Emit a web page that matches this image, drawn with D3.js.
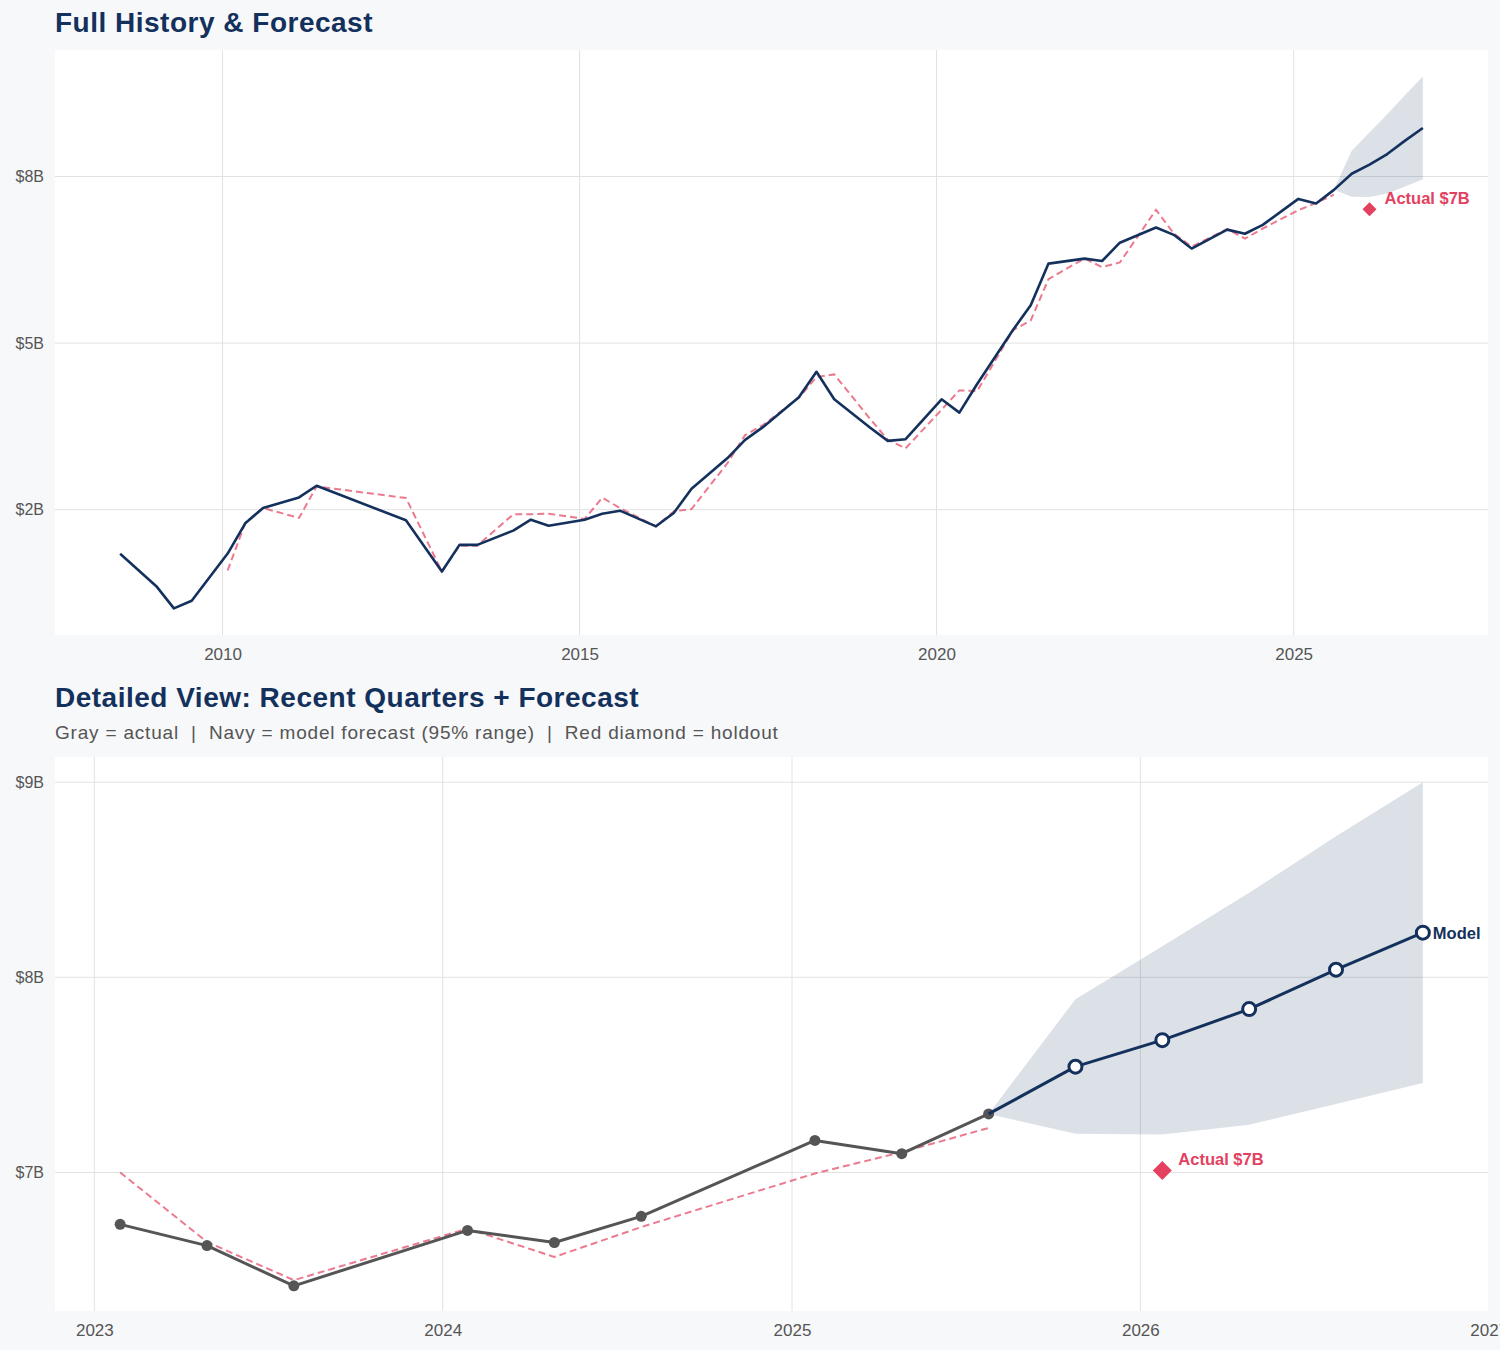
<!DOCTYPE html>
<html><head><meta charset="utf-8">
<script src="https://cdn.jsdelivr.net/npm/d3@7"></script>
<style>
body{margin:0;background:#f7f8fa;}
text{font-family:"Liberation Sans",Arial,sans-serif;}
</style>
</head><body>
<svg id="chart" width="1500" height="1350"></svg>
<script>
// ---------- DATA ----------
const histDates = ["2008-07-26","2009-01-27","2009-04-27","2009-07-27","2010-01-27","2010-04-27","2010-07-27","2011-01-27","2011-04-27","2012-07-27","2013-01-27","2013-04-27","2013-07-27","2014-01-27","2014-04-27","2014-07-27","2015-01-27","2015-04-27","2015-07-27","2016-01-27","2016-04-27","2016-07-27","2017-01-27","2017-04-27","2017-07-27","2018-01-27","2018-04-27","2018-07-27","2019-01-27","2019-04-27","2019-07-27","2020-01-27","2020-04-27","2020-07-27","2021-01-27","2021-04-27","2021-07-27","2022-01-27","2022-04-27","2022-07-27","2023-01-28","2023-04-29","2023-07-29","2024-01-27","2024-04-27","2024-07-27","2025-01-25","2025-04-26","2025-07-26"];
const histValues = [1.837,1.352,1.018,1.133,1.841,2.295,2.525,2.684,2.859,2.340,1.572,1.972,1.972,2.186,2.35,2.26,2.35,2.44,2.485,2.25,2.45,2.814,3.274,3.548,3.738,4.187,4.570,4.157,3.73,3.533,3.558,4.157,3.957,4.386,5.20,5.569,6.193,6.268,6.232,6.507,6.734,6.625,6.419,6.703,6.641,6.775,7.164,7.096,7.300];

const fitDates = ["2010-01-27","2010-04-27","2010-07-27","2011-01-27","2011-04-27","2012-07-27","2013-01-27","2013-04-27","2013-07-27","2014-01-27","2014-04-27","2014-07-27","2015-01-27","2015-04-27","2015-07-27","2016-01-27","2016-04-27","2016-07-27","2017-01-27","2017-04-27","2017-07-27","2018-01-27","2018-04-27","2018-07-27","2019-01-27","2019-04-27","2019-07-27","2020-01-27","2020-04-27","2020-07-27","2021-01-27","2021-04-27","2021-07-27","2022-01-27","2022-04-27","2022-07-27","2023-01-28","2023-04-29","2023-07-29","2024-01-27","2024-04-27","2024-07-27","2025-01-25","2025-04-26","2025-07-26"];
const fitValues = [1.587,2.30,2.525,2.376,2.849,2.675,1.572,1.96,1.96,2.43,2.43,2.44,2.36,2.68,2.525,2.25,2.475,2.51,3.20,3.62,3.77,4.18,4.49,4.53,3.86,3.55,3.42,4.00,4.29,4.28,5.195,5.34,5.96,6.27,6.14,6.21,7.00,6.644,6.448,6.712,6.567,6.72,6.995,7.104,7.228];

const fcDates = ["2025-07-26","2025-10-25","2026-01-24","2026-04-25","2026-07-25","2026-10-24"];
const fcValues = [7.300,7.542,7.678,7.837,8.039,8.229];
const fcLower  = [7.300,7.198,7.194,7.244,7.351,7.459];
const fcUpper  = [7.300,7.888,8.159,8.433,8.723,9.000];

const holdoutDate = "2026-01-24";
const holdoutValue = 7.01;
const holdoutLabel = "Actual $7B";
const modelLabel = "Model";

const topTitle = "Full History & Forecast";
const botTitle = "Detailed View: Recent Quarters + Forecast";
const botSubtitle = "Gray = actual  |  Navy = model forecast (95% range)  |  Red diamond = holdout";

const topYTicks = [2.5, 5, 7.5];
const topYLabels = ["$2B", "$5B", "$8B"];
const topXTicks = [2010, 2015, 2020, 2025];
const botYTicks = [7, 8, 9];
const botYLabels = ["$7B", "$8B", "$9B"];
const botXTicks = [2023, 2024, 2025, 2026, 2027];
const detailStart = "2023-01-01";

// ---------- STYLE ----------
const NAVY = "#13315c", GRAY = "#555555", RED = "#e3415f", FIT = "#e3415f",
      BAND = "#13315c", GRID = "#e2e2e2", TICK = "#555555";

const parse = d3.utcParse("%Y-%m-%d");
const hist = histDates.map((d,i)=>({date:parse(d), v:histValues[i]}));
const fit  = fitDates.map((d,i)=>({date:parse(d), v:fitValues[i]}));
const fc   = fcDates.map((d,i)=>({date:parse(d), v:fcValues[i], lo:fcLower[i], hi:fcUpper[i]}));
const hold = {date:parse(holdoutDate), v:holdoutValue};

const svg = d3.select("#chart");
svg.append("rect").attr("width",1500).attr("height",1350).attr("fill","#f7f8fa");

function pad(ext, f){ const r = ext[1]-ext[0]; return [ext[0]-r*f, ext[1]+r*f]; }
function padTime(ext, f){ const a=+ext[0], b=+ext[1], r=b-a; return [new Date(a-r*f), new Date(b+r*f)]; }
function diamond(half){ const s = half*Math.SQRT2; return d3.symbol().type(d3.symbolSquare).size(s*s)(); }

function panel(opts){
  const {x0,x1,y0,y1,h,f,fcData,detail,yTicks,yLabels,xTicks} = opts;
  const g = svg.append("g");
  g.append("rect").attr("x",x0).attr("y",y0).attr("width",x1-x0).attr("height",y1-y0).attr("fill","#ffffff");

  const allDates = h.map(d=>d.date).concat(fcData.map(d=>d.date));
  const allVals = h.map(d=>d.v).concat(f.map(d=>d.v), fcData.map(d=>d.lo), fcData.map(d=>d.hi), [hold.v]);
  const x = d3.scaleUtc().domain(padTime(d3.extent(allDates),0.05)).range([x0,x1]);
  const y = d3.scaleLinear().domain(pad(d3.extent(allVals),0.05)).range([y1,y0]);

  const clipId = "clip"+Math.round(y0);
  g.append("clipPath").attr("id",clipId).append("rect").attr("x",x0).attr("y",y0).attr("width",x1-x0).attr("height",y1-y0);

  // grid
  const xt = xTicks.map(yr=>new Date(Date.UTC(yr,0,1)));
  g.append("g").attr("clip-path",`url(#${clipId})`).selectAll("line").data(xt).join("line")
    .attr("x1",d=>x(d)).attr("x2",d=>x(d)).attr("y1",y0).attr("y2",y1)
    .attr("stroke",GRID).attr("stroke-width",1);
  g.append("g").selectAll("line").data(yTicks).join("line")
    .attr("x1",x0).attr("x2",x1).attr("y1",d=>y(d)).attr("y2",d=>y(d))
    .attr("stroke",GRID).attr("stroke-width",1);

  // axes via d3
  const xAxis = d3.axisBottom(x).tickValues(xt).tickFormat(d3.utcFormat("%Y")).tickSize(0).tickPadding(14);
  const gx = g.append("g").attr("transform",`translate(0,${y1-1})`).call(xAxis);
  gx.select(".domain").remove();
  gx.selectAll("text").attr("fill",TICK).attr("font-size",17).attr("font-family","Liberation Sans, Arial, sans-serif");
  const yAxis = d3.axisLeft(y).tickValues(yTicks).tickFormat((d,i)=>yLabels[i]).tickSize(0).tickPadding(11);
  const gy = g.append("g").attr("transform",`translate(${x0},0)`).call(yAxis);
  gy.select(".domain").remove();
  gy.selectAll("text").attr("fill",TICK).attr("font-size",16).attr("font-family","Liberation Sans, Arial, sans-serif");

  const line = d3.line().x(d=>x(d.date)).y(d=>y(d.v));
  const area = d3.area().x(d=>x(d.date)).y0(d=>y(d.lo)).y1(d=>y(d.hi));
  const body = g.append("g").attr("clip-path",`url(#${clipId})`);

  // band
  body.append("path").datum(fcData).attr("d",area).attr("fill",BAND).attr("fill-opacity",0.15);

  const labelFont = {family:"Liberation Sans, Arial, sans-serif", size:16.5};
  if(!detail){
    body.append("path").datum(f).attr("d",line).attr("fill","none")
      .attr("stroke",FIT).attr("stroke-opacity",0.7).attr("stroke-width",2).attr("stroke-dasharray","7,4");
    body.append("path").datum(h.concat(fcData.slice(1))).attr("d",line).attr("fill","none")
      .attr("stroke",NAVY).attr("stroke-width",2.6).attr("stroke-linejoin","round");
    body.append("path").attr("d",diamond(7))
      .attr("transform",`translate(${x(hold.date)},${y(hold.v)}) rotate(45)`).attr("fill",RED);
    g.append("text").attr("x",x(hold.date)+15).attr("y",y(hold.v)-5)
      .attr("font-family",labelFont.family).attr("font-weight","bold").attr("font-size",labelFont.size)
      .attr("fill",RED).text(holdoutLabel);
  } else {
    body.append("path").datum(f).attr("d",line).attr("fill","none")
      .attr("stroke",FIT).attr("stroke-opacity",0.7).attr("stroke-width",2).attr("stroke-dasharray","7,4");
    body.append("path").datum(h).attr("d",line).attr("fill","none")
      .attr("stroke",GRAY).attr("stroke-width",3).attr("stroke-linejoin","round");
    body.selectAll("circle.a").data(h).join("circle")
      .attr("cx",d=>x(d.date)).attr("cy",d=>y(d.v)).attr("r",5.5).attr("fill",GRAY);
    body.append("path").datum(fcData).attr("d",line).attr("fill","none")
      .attr("stroke",NAVY).attr("stroke-width",3).attr("stroke-linejoin","round");
    body.selectAll("circle.f").data(fcData.slice(1)).join("circle")
      .attr("cx",d=>x(d.date)).attr("cy",d=>y(d.v)).attr("r",6.5)
      .attr("fill","#ffffff").attr("stroke",NAVY).attr("stroke-width",3);
    const last = fcData[fcData.length-1];
    g.append("text").attr("x",x(last.date)+10).attr("y",y(last.v)+6)
      .attr("font-family",labelFont.family).attr("font-weight","bold").attr("font-size",labelFont.size)
      .attr("fill",NAVY).text(modelLabel);
    body.append("path").attr("d",diamond(9.5))
      .attr("transform",`translate(${x(hold.date)},${y(hold.v)}) rotate(45)`).attr("fill",RED);
    g.append("text").attr("x",x(hold.date)+16).attr("y",y(hold.v)-5)
      .attr("font-family",labelFont.family).attr("font-weight","bold").attr("font-size",labelFont.size)
      .attr("fill",RED).text(holdoutLabel);
  }
  return g;
}

// titles
svg.append("text").attr("x",55).attr("y",32).attr("font-size",28).attr("font-weight","bold")
  .attr("letter-spacing",0.5).attr("fill",NAVY).text(topTitle);
svg.append("text").attr("x",55).attr("y",707).attr("font-size",28).attr("font-weight","bold")
  .attr("letter-spacing",0.5).attr("fill",NAVY).text(botTitle);
svg.append("text").attr("x",55).attr("y",739).attr("font-size",19).attr("letter-spacing",0.8)
  .attr("fill",TICK).style("white-space","pre").attr("xml:space","preserve").text(botSubtitle);

// top panel
panel({x0:55,x1:1488,y0:50,y1:635,h:hist,f:fit,fcData:fc,detail:false,
       yTicks:topYTicks,yLabels:topYLabels,xTicks:topXTicks});

// bottom panel
const ds = parse(detailStart);
panel({x0:55,x1:1488,y0:757,y1:1311,h:hist.filter(d=>d.date>=ds),f:fit.filter(d=>d.date>=ds),fcData:fc,detail:true,
       yTicks:botYTicks,yLabels:botYLabels,xTicks:botXTicks});
</script>
</body></html>
